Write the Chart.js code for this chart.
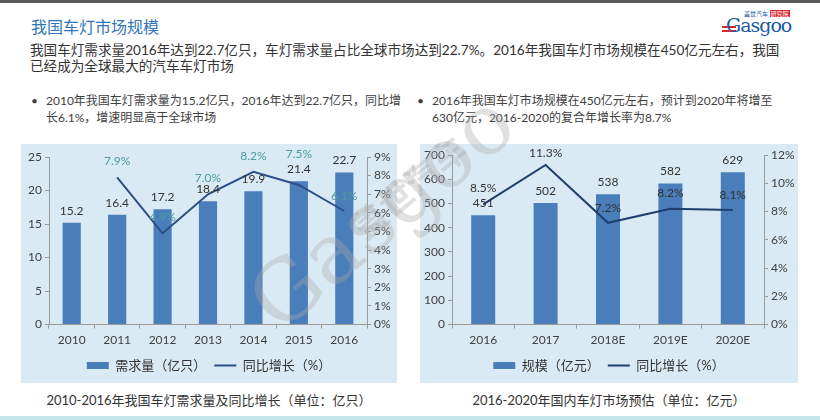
<!DOCTYPE html>
<html>
<head>
<meta charset="utf-8">
<script src="https://cdn.jsdelivr.net/npm/chart.js@4.4.1/dist/chart.umd.min.js"></script>
<style>
  html, body { margin: 0; padding: 0; background: #fff; }
  body { width: 820px; height: 420px; position: relative; overflow: hidden;
         font-family: Lato, "Noto Sans CJK SC", sans-serif; }
  .topline { position: absolute; left: 0; top: 0; width: 820px; height: 3px; background: #5a5a5a; }
  .bottomline { position: absolute; left: 0; top: 416px; width: 820px; height: 4px; background: #c4e4ea; }
  .title { position: absolute; left: 31px; top: 14px; font-size: 16px; color: #3176b9; white-space: nowrap; }
  .body { position: absolute; left: 30px; top: 42px; font-size: 13.6px; line-height: 16px; color: #333; white-space: nowrap; }
  .bullet { position: absolute; top: 92px; font-size: 12px; line-height: 17px; color: #404040; white-space: nowrap; }
  .bullet span { position: absolute; left: -15px; top: 0; }
  .panel { position: absolute; top: 144px; height: 239px; background: #daeaf4; }
  .caption { position: absolute; top: 390px; font-size: 13px; color: #333; white-space: nowrap; text-align: center; }
  .logo { position: absolute; left: 722px; top: 9px; width: 72px; height: 28px; }
  .logo .small { position: absolute; left: 22px; top: 0; font-size: 6px; color: #1a5ba6; white-space: nowrap; }
  .logo .small b { color: #fff; background: #d8282e; font-weight: normal; padding: 0 1px; }
  .logo .big { position: absolute; left: 4px; top: 5px; font-family: "DejaVu Serif", serif; font-size: 19px; color: #1a5ba6; letter-spacing: -1px; }
  .logo .red { position: absolute; left: 0; height: 2px; width: 14px; background: #d8282e; }
  .wm { position: absolute; pointer-events: none; color: rgba(170,170,170,0.35); white-space: nowrap;
        transform-origin: left bottom; }
</style>
</head>
<body>
<div class="topline"></div>
<div class="title">我国车灯市场规模</div>
<div class="logo">
  <div class="small">盖世汽车 <b>研究院</b></div>
  <div class="red" style="top:17px"></div>
  <div class="red" style="top:21px"></div>
  <div class="big">Gasgoo</div>
</div>
<div class="body">我国车灯需求量2016年达到22.7亿只，车灯需求量占比全球市场达到22.7%。2016年我国车灯市场规模在450亿元左右，我国<br>已经成为全球最大的汽车车灯市场</div>
<div class="bullet" style="left:46px"><span>•</span>2010年我国车灯需求量为15.2亿只，2016年达到22.7亿只，同比增<br>长6.1%，增速明显高于全球市场</div>
<div class="bullet" style="left:432px"><span>•</span>2016年我国车灯市场规模在450亿元左右，预计到2020年将增至<br>630亿元，2016-2020的复合年增长率为8.7%</div>

<div class="panel" style="left:21px; width:376px;"><canvas id="leftChart"></canvas></div>
<div class="panel" style="left:420px; width:378px;"><canvas id="rightChart"></canvas></div>

<div class="caption" style="left:21px; width:376px;">2010-2016年我国车灯需求量及同比增长（单位：亿只）</div>
<div class="caption" style="left:420px; width:378px;">2016-2020年国内车灯市场预估（单位：亿元）</div>

<div class="wm" style="left:292px; top:252px; font-family:'DejaVu Serif',serif; font-size:84px; transform: rotate(-40deg);">Gasgoo</div>
<div class="wm" style="left:372px; top:200px; font-family:'Noto Sans CJK SC',sans-serif; font-size:34px; font-weight:bold; transform: rotate(-40deg);">盖世汽车</div>

<div class="bottomline"></div>

<script>
// 数据
const demandYears = ['2010', '2011', '2012', '2013', '2014', '2015', '2016'];
const demandValues = [15.2, 16.4, 17.2, 18.4, 19.9, 21.4, 22.7];
const demandGrowth = [null, 7.9, 4.9, 7.0, 8.2, 7.5, 6.1];

const marketYears = ['2016', '2017', '2018E', '2019E', '2020E'];
const marketValues = [451, 502, 538, 582, 629];
const marketGrowth = [8.5, 11.3, 7.2, 8.2, 8.1];

const FONT = 'Lato, "Noto Sans CJK SC", sans-serif';
const BAR_COLOR = '#4a7ebb';
const AXIS_COLOR = '#9a9a9a';
const TICK_COLOR = '#404040';

// Etiquetas de valores encima de barras y puntos
const valueLabels = {
    id: 'valueLabels',
    afterDatasetsDraw(chart) {
        const ctx = chart.ctx;
        chart.data.datasets.forEach((ds, i) => {
            const meta = chart.getDatasetMeta(i);
            if (meta.hidden) return;
            meta.data.forEach((el, j) => {
                const v = ds.data[j];
                if (v == null) return;
                const dy = ds.labelOffsets ? ds.labelOffsets[j] : 12;
                ctx.save();
                ctx.font = '12px ' + FONT;
                ctx.fillStyle = ds.labelColor;
                ctx.textAlign = 'center';
                ctx.textBaseline = 'middle';
                ctx.fillText(ds.labelFormat(v), el.x, el.y - dy);
                ctx.restore();
            });
        });
    }
};

function axisGrid() {
    return { display: true, drawOnChartArea: false, drawTicks: true, tickLength: 4, color: AXIS_COLOR };
}

function makeChart(id, opts) {
    return new Chart(document.getElementById(id), {
        type: 'bar',
        data: {
            labels: opts.labels,
            datasets: [{
                type: 'bar',
                label: opts.barLabel,
                data: opts.bars,
                backgroundColor: BAR_COLOR,
                borderWidth: 0,
                barPercentage: 1,
                categoryPercentage: opts.catPct,
                pointStyle: 'rect',
                yAxisID: 'y',
                order: 2,
                labelColor: '#333',
                labelFormat: v => String(v)
            }, {
                type: 'line',
                label: '同比增长（%）',
                data: opts.growth,
                borderColor: opts.lineColor,
                backgroundColor: opts.lineColor,
                borderWidth: 2,
                pointRadius: 0,
                pointStyle: 'line',
                tension: 0,
                yAxisID: 'y1',
                order: 1,
                labelColor: opts.growthLabelColor,
                labelOffsets: opts.growthOffsets,
                labelFormat: v => v.toFixed(1) + '%'
            }]
        },
        options: {
            responsive: true,
            maintainAspectRatio: false,
            animation: false,
            layout: { padding: { top: opts.top, left: 0, right: 0, bottom: 1 } },
            plugins: {
                tooltip: { enabled: false },
                legend: {
                    position: 'bottom',
                    labels: {
                        usePointStyle: true,
                        pointStyleWidth: 22,
                        boxHeight: 7,
                        padding: 8,
                        color: '#333',
                        font: { size: 13, family: FONT },
                        sort: (a, b) => a.datasetIndex - b.datasetIndex
                    }
                }
            },
            scales: {
                x: {
                    grid: axisGrid(),
                    border: { display: true, color: AXIS_COLOR },
                    ticks: { color: TICK_COLOR, font: { size: 12, family: FONT }, padding: 4 }
                },
                y: {
                    position: 'left',
                    min: 0, max: opts.yMax,
                    afterFit: s => { s.width = opts.leftW; },
                    grid: axisGrid(),
                    border: { display: true, color: AXIS_COLOR },
                    ticks: { stepSize: opts.yStep, color: TICK_COLOR, font: { size: 12, family: FONT }, padding: 3 }
                },
                y1: {
                    position: 'right',
                    min: 0, max: opts.y1Max,
                    afterFit: s => { s.width = opts.rightW; },
                    grid: axisGrid(),
                    border: { display: true, color: AXIS_COLOR },
                    ticks: { stepSize: opts.y1Step, color: TICK_COLOR, font: { size: 12, family: FONT }, padding: 3,
                             callback: v => v + '%' }
                }
            }
        },
        plugins: [valueLabels]
    });
}

makeChart('leftChart', {
    labels: demandYears, bars: demandValues, growth: demandGrowth,
    barLabel: '需求量（亿只）', catPct: 0.4,
    lineColor: '#2c4f86', growthLabelColor: '#4b9c9e',
    growthOffsets: [16, 16, 16, 16, 16, 31, 15],
    yMax: 25, yStep: 5, y1Max: 9, y1Step: 1,
    leftW: 28, rightW: 30, top: 13
});

makeChart('rightChart', {
    labels: marketYears, bars: marketValues, growth: marketGrowth,
    barLabel: '规模（亿元）', catPct: 0.385,
    lineColor: '#1f3f6e', growthLabelColor: '#333',
    growthOffsets: [16, 12, 15, 16, 15],
    yMax: 700, yStep: 100, y1Max: 12, y1Step: 2,
    leftW: 32, rightW: 34, top: 11
});
</script>
</body>
</html>
